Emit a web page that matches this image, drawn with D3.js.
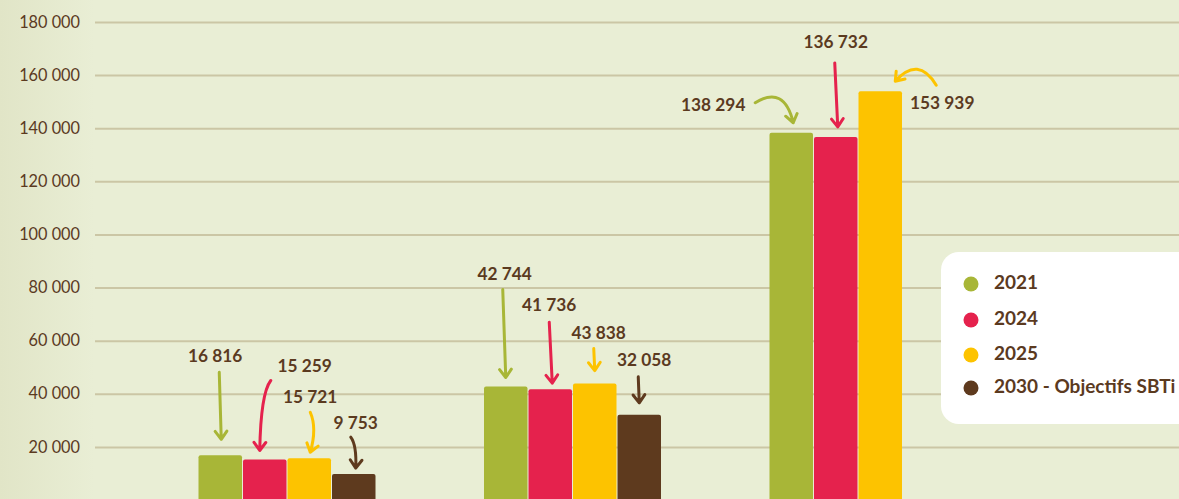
<!DOCTYPE html>
<html>
<head>
<meta charset="utf-8">
<script src="https://cdn.jsdelivr.net/npm/d3@7"></script>
<style>
  html, body { margin: 0; padding: 0; background: #e9eed5; overflow: hidden; }
  svg { display: block; font-family: Lato, "Open Sans", sans-serif; }
</style>
</head>
<body>
<div id="chart"></div>
<script>
// categories (x labels sit below the visible frame)
const categories = ["Scope 1", "Scope 2", "Scope 3"];
const series = ["2021", "2024", "2025", "2030 - Objectifs SBTi"];
const colors = ["#a8b637", "#e5224d", "#fdc300", "#5e3a1e"];

// values per series, one per category (null = no bar)
const values2021 = [16816, 42744, 138294];
const values2024 = [15259, 41736, 136732];
const values2025 = [15721, 43838, 153939];
const values2030 = [9753, 32058, null];

const yTicks = [20000, 40000, 60000, 80000, 100000, 120000, 140000, 160000, 180000];

const width = 1179, height = 499;
const textColor = "#5b3a1f";

const fr = d3.formatLocale({ decimal: ",", thousands: " ", grouping: [3], currency: ["", " €"] });
const fmt = fr.format(",");

const allValues = [values2021, values2024, values2025, values2030];
const data = [];
categories.forEach((c, ci) => {
  series.forEach((s, si) => {
    const v = allValues[si][ci];
    if (v != null) data.push({ cat: c, ci, s, si, value: v });
  });
});

// annotation styling: label and arrow offsets relative to the bar top centre
// [ci][si] -> {l:[dx,dy], a:[dx,dy], b:[dx,dy], c:[dx,dy] or null}
const notes = [
  [
    { l: [-5, -98], a: [-1, -83], b: [1, -16], c: null },
    { l: [40, -92], a: [6, -79], b: [-5, -9], c: [-4, -66] },
    { l: [1, -60], a: [1, -46], b: [1, -6], c: [8, -30] },
    { l: [2, -50], a: [-3, -37], b: [2, -6], c: [3, -29] }
  ],
  [
    { l: [-1, -111], a: [-3, -97], b: [0, -9], c: null },
    { l: [-1, -83], a: [-1, -67], b: [2, -6], c: null },
    { l: [4, -49], a: [-1, -35], b: [0, -13], c: null },
    { l: [5, -53], a: [-1, -38], b: [0, -12], c: null }
  ],
  [
    { l: [-78, -26], a: [-36, -30], b: [2, -10], c: [-7, -48] },
    { l: [0, -93], a: [-1, -74], b: [2, -10], c: null },
    { l: [62, 13], a: [56, -6], b: [15, -10], c: [38, -36] }
  ]
];

const svg = d3.select("#chart")
  .append("svg")
  .attr("width", width)
  .attr("height", height)
  .attr("viewBox", [0, 0, width, height]);

// background with slightly darker left edge
const defs = svg.append("defs");
const grad = defs.append("linearGradient").attr("id", "bg").attr("x1", "0").attr("x2", "1");
grad.append("stop").attr("offset", "0").attr("stop-color", "#e1e5c7");
grad.append("stop").attr("offset", "0.08").attr("stop-color", "#e9eed5");
grad.append("stop").attr("offset", "1").attr("stop-color", "#e9eed5");
svg.append("rect").attr("width", width).attr("height", height).attr("fill", "url(#bg)");

const y = d3.scaleLinear()
  .domain([0, 180000])
  .range([500, 22]);

const x = d3.scaleBand()
  .domain(categories)
  .range([198, 947])
  .paddingInner(0.3765)
  .paddingOuter(0);

const xs = d3.scaleBand()
  .domain(series)
  .range([0, x.bandwidth()]);

const color = d3.scaleOrdinal(series, colors);

// gridlines + tick labels
const yAxis = svg.append("g")
  .attr("transform", "translate(95,0)")
  .call(d3.axisLeft(y).tickValues(yTicks).tickSize(-(width - 95)).tickPadding(15).tickFormat(fmt));
yAxis.select(".domain").remove();
yAxis.selectAll(".tick line")
  .attr("stroke", "#cbc6a5")
  .attr("stroke-width", 2);
yAxis.selectAll(".tick text")
  .attr("fill", textColor)
  .attr("font-size", 16.3)
  .attr("font-family", "Lato, sans-serif");

// bars
svg.append("g")
  .selectAll("rect")
  .data(data)
  .join("rect")
  .attr("x", d => x(d.cat) + xs(d.s) + 0.5)
  .attr("y", d => y(d.value))
  .attr("width", xs.bandwidth() - 1)
  .attr("height", d => y(0) - y(d.value) + 5)
  .attr("rx", 2)
  .attr("fill", d => color(d.s));

// annotations: value labels with hand drawn arrows
const ann = svg.append("g");
data.forEach(d => {
  const n = notes[d.ci][d.si];
  const cx = x(d.cat) + xs(d.s) + xs.bandwidth() / 2;
  const top = y(d.value);
  const p0 = [cx + n.a[0], top + n.a[1]];
  const p1 = [cx + n.b[0], top + n.b[1]];
  const pc = n.c ? [cx + n.c[0], top + n.c[1]] : [(p0[0] + p1[0]) / 2, (p0[1] + p1[1]) / 2];

  const p = d3.path();
  p.moveTo(p0[0], p0[1]);
  p.quadraticCurveTo(pc[0], pc[1], p1[0], p1[1]);

  // arrow head along end tangent
  const ang = Math.atan2(p1[1] - pc[1], p1[0] - pc[0]);
  const hl = 10, spread = Math.PI / 5;
  p.moveTo(p1[0] - hl * Math.cos(ang - spread), p1[1] - hl * Math.sin(ang - spread));
  p.lineTo(p1[0], p1[1]);
  p.lineTo(p1[0] - hl * Math.cos(ang + spread), p1[1] - hl * Math.sin(ang + spread));

  ann.append("path")
    .attr("d", p.toString())
    .attr("fill", "none")
    .attr("stroke", color(d.s))
    .attr("stroke-width", 3)
    .attr("stroke-linecap", "round")
    .attr("stroke-linejoin", "round");

  ann.append("text")
    .attr("x", cx + n.l[0])
    .attr("y", top + n.l[1])
    .attr("text-anchor", "middle")
    .attr("dominant-baseline", "middle")
    .attr("fill", textColor)
    .attr("font-size", 17.3)
    .attr("font-weight", 700)
    .text(fmt(d.value));
});

// legend
const legend = svg.append("g").attr("transform", "translate(941,252)");
legend.append("rect")
  .attr("width", 270)
  .attr("height", 172)
  .attr("rx", 18)
  .attr("fill", "#ffffff");

const legendY = [32, 68, 103, 136];
const item = legend.selectAll("g.item")
  .data(series)
  .join("g")
  .attr("class", "item")
  .attr("transform", (d, i) => `translate(0,${legendY[i]})`);
item.append("circle")
  .attr("cx", 30)
  .attr("cy", 0)
  .attr("r", 7.5)
  .attr("fill", d => color(d));
item.append("text")
  .attr("x", 53)
  .attr("y", 0)
  .attr("dominant-baseline", "middle")
  .attr("fill", textColor)
  .attr("font-size", 19)
  .attr("font-weight", 700)
  .text(d => d);
</script>
</body>
</html>
